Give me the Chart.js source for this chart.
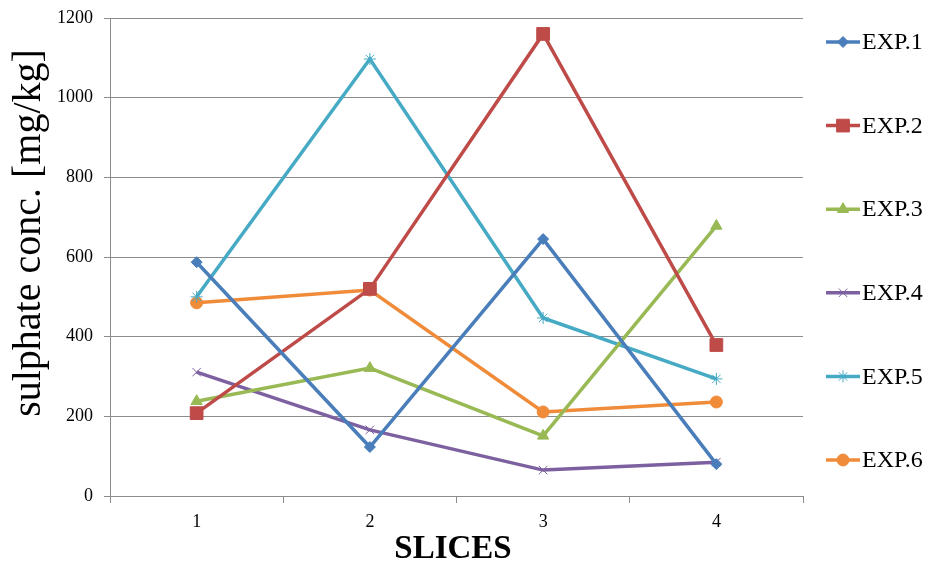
<!DOCTYPE html>
<html lang="en">
<head>
    <meta charset="UTF-8">
    <title>Sulphate concentration by slice</title>
    <script src="https://cdn.jsdelivr.net/npm/chart.js"></script>
    <style>
        body { margin: 0; background: #fff; }
        #wrap { width: 928px; height: 564px; }
    </style>
</head>
<body>
    <div id="wrap"><canvas id="sliceChart" width="928" height="564"></canvas></div>

    <script>
        const slices = ["1", "2", "3", "4"];
        const yTicks = [0, 200, 400, 600, 800, 1000, 1200];

        const exp1 = [587, 123, 645, 80];
        const exp2 = [208, 520, 1160, 379];
        const exp3 = [238, 321, 151, 678];
        const exp4 = [311, 166, 65, 85];
        const exp5 = [500, 1097, 447, 294];
        const exp6 = [485, 517, 211, 236];

        const serif = "'Liberation Serif', 'Times New Roman', serif";

        function series(label, data, color, style, radius, pbw) {
            return {
                label: label,
                data: data,
                borderColor: color,
                backgroundColor: color,
                borderWidth: 3.5,
                pointStyle: style,
                pointRadius: radius,
                pointHoverRadius: radius,
                pointBorderWidth: pbw,
                pointBorderColor: color,
                pointBackgroundColor: color,
                tension: 0
            };
        }

        // axis titles + right-hand legend drawn by hand, Excel style
        const decor = {
            id: "decor",
            afterDraw(chart) {
                const ctx = chart.ctx;
                ctx.save();
                ctx.fillStyle = "#000";

                ctx.translate(29, 233);
                ctx.rotate(-Math.PI / 2);
                ctx.font = "40px " + serif;
                ctx.textAlign = "center";
                ctx.textBaseline = "middle";
                ctx.fillText("sulphate conc. [mg/kg]", 0, 0);
                ctx.setTransform(1, 0, 0, 1, 0, 0);

                ctx.font = "bold 33px " + serif;
                ctx.textAlign = "center";
                ctx.textBaseline = "alphabetic";
                ctx.fillText("SLICES", 453, 558);

                ctx.font = "24px " + serif;
                ctx.textAlign = "left";
                ctx.textBaseline = "middle";
                chart.data.datasets.forEach(function(ds, i) {
                    const y = 42 + i * 83.6;
                    ctx.strokeStyle = ds.borderColor;
                    ctx.lineWidth = 3.5;
                    ctx.beginPath();
                    ctx.moveTo(826, y);
                    ctx.lineTo(860, y);
                    ctx.stroke();
                    ctx.fillStyle = ds.backgroundColor;
                    ctx.lineWidth = ds.pointBorderWidth;
                    Chart.helpers.drawPoint(ctx, {
                        pointStyle: ds.pointStyle,
                        radius: ds.pointRadius,
                        borderWidth: ds.pointBorderWidth,
                        rotation: 0
                    }, 843, y);
                    ctx.fillStyle = "#000";
                    ctx.fillText(ds.label, 862, y + 1);
                });
                ctx.restore();
            }
        };

        const ctx = document.getElementById("sliceChart").getContext("2d");
        new Chart(ctx, {
            type: "line",
            data: {
                labels: slices,
                datasets: [
                    series("EXP.1", exp1, "#4A7EBB", "rectRot", 5.5, 1),
                    series("EXP.2", exp2, "#BE4B48", "rect", 9, 1),
                    series("EXP.3", exp3, "#98B954", "triangle", 6.5, 1),
                    series("EXP.4", exp4, "#7D60A0", "crossRot", 6, 1),
                    series("EXP.5", exp5, "#46AAC5", "star", 6, 1),
                    series("EXP.6", exp6, "#F08B3A", "circle", 6, 1)
                ]
            },
            options: {
                responsive: false,
                animation: false,
                layout: { padding: { top: 18, right: 125, left: 0, bottom: 0 } },
                plugins: {
                    legend: { display: false },
                    tooltip: { enabled: false }
                },
                scales: {
                    x: {
                        offset: true,
                        afterFit(scale) { scale.height = 68; },
                        grid: {
                            offset: true,
                            drawOnChartArea: false,
                            tickLength: 7,
                            color: "#8c8c8c"
                        },
                        border: { color: "#8c8c8c", width: 1 },
                        ticks: {
                            padding: 8,
                            color: "#000",
                            font: { family: serif, size: 18 }
                        }
                    },
                    y: {
                        min: 0,
                        max: 1200,
                        afterFit(scale) {
                            scale.width = 110;
                            scale.paddingTop = 0;
                            scale.paddingBottom = 0;
                        },
                        afterBuildTicks(scale) {
                            scale.ticks = yTicks.map(v => ({ value: v }));
                        },
                        grid: {
                            color: "#8c8c8c",
                            tickLength: 6
                        },
                        border: { color: "#8c8c8c", width: 1 },
                        ticks: {
                            padding: 11,
                            color: "#000",
                            font: { family: serif, size: 18 },
                            callback: v => String(v)
                        }
                    }
                }
            },
            plugins: [decor]
        });
    </script>
</body>
</html>
